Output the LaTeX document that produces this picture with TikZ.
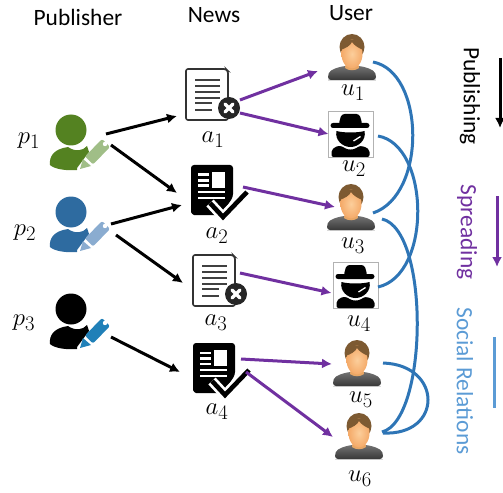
\documentclass[tikz,border=0pt]{standalone}
\usepackage{fontspec}
\setmainfont{Carlito}
\definecolor{spreadpurple}{RGB}{112,48,160}
\definecolor{socialblue}{RGB}{46,117,182}
\definecolor{labelblue}{RGB}{91,155,213}
\definecolor{pgreen}{RGB}{84,130,33}
\definecolor{pgreenl}{RGB}{160,190,135}
\definecolor{pblue}{RGB}{46,107,160}
\definecolor{pbluel}{RGB}{138,172,208}
\definecolor{ppen}{RGB}{32,128,184}
\definecolor{hair}{RGB}{125,90,50}
\definecolor{skinin}{RGB}{252,206,155}
\definecolor{skinout}{RGB}{244,170,105}
\usetikzlibrary{arrows.meta}
\tikzset{
  x=1bp,y=-1bp,
  slot/.style={inner sep=0pt,outer sep=0pt,minimum size=#1},
  head/.style={font=\fontsize{23.5}{28}\selectfont,text=black,inner sep=0pt},
  sidelabel/.style={font=\fontsize{23.5}{28}\selectfont,rotate=-90,inner sep=0pt},
  mathlabel/.style={font=\fontsize{32}{38}\selectfont,inner sep=0pt},
  publish/.style={line width=3bp,black,-{Latex[length=10bp,width=10bp]}},
  spread/.style={line width=3bp,spreadpurple,-{Latex[length=10bp,width=10bp]}},
  social/.style={line width=3bp,socialblue},
  pics/publisher/.style n args={2}{code={
    \fill[#1] (-7,-20) circle (15.5);
    \fill[#1] (-10,-3) .. controls (-3,2) and (5,1) .. (9,-4) -- (11,2) -- (-1,18) -- (-1,20)
       .. controls (-12,21) and (-24,19) .. (-28,15) .. controls (-29,6) and (-24,-1) .. (-10,-3) -- cycle;
    \fill[#2] (2,19) -- (5,9) -- (13,16) -- cycle;
    \fill[#2,rounded corners=2bp] (7,6.5) -- (24,-11) -- (32,-3) -- (15,14.5) -- cycle;
    \fill[white] (27,-6) circle (2.2);
  }},
  pics/docx/.style={code={
    \draw[line width=1.6bp,black!80,rounded corners=2bp] (0,0) -- (40,0) -- (42,2) -- (42,51) -- (0,51) -- cycle;
    \foreach \yy/\xe in {11/34,17/34,23/34,29/34,34/26,41/26}{\draw[line width=1.7bp,black!75] (9,\yy) -- (\xe,\yy);}
    \fill[black!85] (43,39) circle (11);
    \draw[white,line width=3.2bp,line cap=round] (39,35) -- (47,43) (47,35) -- (39,43);
  }},
  pics/doccheck/.style={code={
    \fill[black,rounded corners=3bp] (0,0) -- (42,0) -- (42,32) -- (30,50) -- (6,50) .. controls (2,50) and (0,48) .. (0,44) -- cycle;
    \fill[white] (21,7) rectangle (34,23);
    \foreach \yy in {8.5,14,19.5}{\fill[white] (7,\yy) rectangle (18,\yy+2.6);}
    \fill[white] (7,26) rectangle (34,28.4);
    \fill[white] (7,31.5) rectangle (34,33.5);
    \draw[white,line width=10bp,line join=miter] (19,38) -- (32,52) -- (56,27);
    \draw[black,line width=4.6bp,line join=miter] (19,38) -- (32,52) -- (56,27);
  }},
  pics/usericon/.style={code={
    \fill[black!15] (-24,26.5) rectangle (24,28);
    \shade[top color=black!55,bottom color=black!78,rounded corners=3bp]
      (-24,27) .. controls (-24,18) and (-20,16) .. (-8,13) -- (8,13) .. controls (20,16) and (24,18) .. (24,27) -- cycle;
    \fill[orange!45!brown!70] (-6,8) -- (6,8) -- (7,15) .. controls (3,18) and (-3,18) .. (-7,15) -- cycle;
    \fill[hair] (0,-6) ellipse (12.5 and 13);
    \shade[inner color=skinin,outer color=skinout] (0,1) ellipse (10.5 and 14.5);
    \fill[hair] (-11.5,-3) .. controls (-11,-17) and (11,-17) .. (11.5,-3) .. controls (6,-5) and (2,-8) .. (0,-11) .. controls (-2,-7) and (-6,-5) .. (-11.5,-3) -- cycle;
  }},
  pics/spyicon/.style={code={
    \fill[white] (-22.5,-23) rectangle (22.5,23);
    \draw[black!30,line width=.6bp] (-22.5,-23) rectangle (22.5,23);
    \fill[black,rounded corners=3bp] (-12,-9) -- (-9,-20) -- (9,-20) -- (12,-9) -- cycle;
    \fill[black,rounded corners=2.5bp] (-20,-11) rectangle (19,-6);
    \fill[black] (-14,-3) .. controls (-7,-1) and (7,-1) .. (14,-3) .. controls (16,6) and (8,13) .. (0,13) .. controls (-8,13) and (-16,6) .. (-14,-3) -- cycle;
    \draw[white,line width=1.3bp] (3,7) -- (10,2.5);
    \fill[black,rounded corners=2bp] (-19,23) -- (-19,16) .. controls (-13,11) and (-10,12) .. (-7,13) .. controls (-3,16) and (3,16) .. (7,13) .. controls (10,12) and (14,12) .. (19,16) -- (19,23) -- cycle;
  }}
}
\begin{document}
\begin{tikzpicture}
\useasboundingbox (0,0) rectangle (503,493);
% headers
\node[head] (hpub) at (78,17) {Publisher};
\node[head] (hnews) at (214,15) {News};
\node[head] (huser) at (351,13) {User};
% icon slots
\node[slot=66bp] (p1) at (78,150) {}; \pic at (78,150) {publisher={pgreen}{pgreenl}};
\node[slot=66bp] (p2) at (78,232) {}; \pic at (78,232) {publisher={pblue}{pbluel}};
\node[slot=66bp] (p3) at (78,329) {}; \pic at (78,329) {publisher={black}{ppen}};
\node[slot=50bp] (a1) at (208,95) {}; \pic at (186,69) {docx};
\node[slot=50bp] (a2) at (212,190) {}; \pic at (191,165) {doccheck};
\node[slot=50bp] (a3) at (214,280) {}; \pic at (193,255) {docx};
\node[slot=50bp] (a4) at (214,368) {}; \pic at (193,343) {doccheck};
\node[slot=48bp] (u1) at (352,53) {}; \pic at (352,53) {usericon};
\node[slot=46bp] (u2) at (350.5,134) {}; \pic at (350.5,134) {spyicon};
\node[slot=48bp] (u3) at (351,203) {}; \pic at (351,203) {usericon};
\node[slot=46bp] (u4) at (355.5,285) {}; \pic at (355.5,285) {spyicon};
\node[slot=48bp] (u5) at (357,359) {}; \pic at (357,359) {usericon};
\node[slot=48bp] (u6) at (359,432) {}; \pic at (359,432) {usericon};
% math labels
\node[mathlabel] (lp1) at (29,141) {$p_1$};
\node[mathlabel] (lp2) at (25,233) {$p_2$};
\node[mathlabel] (lp3) at (24,323) {$p_3$};
\node[mathlabel] (la1) at (213,140) {$a_1$};
\node[mathlabel] (la2) at (217,236) {$a_2$};
\node[mathlabel] (la3) at (216,323) {$a_3$};
\node[mathlabel] (la4) at (217,412) {$a_4$};
\node[mathlabel] (lu1) at (353,93) {$u_1$};
\node[mathlabel] (lu2) at (354,169) {$u_2$};
\node[mathlabel] (lu3) at (353,246) {$u_3$};
\node[mathlabel] (lu4) at (359,324) {$u_4$};
\node[mathlabel] (lu5) at (361,400) {$u_5$};
\node[mathlabel] (lu6) at (360,479) {$u_6$};
% publishing
\draw[publish] ([shift={(28,-16)}]p1.center) -- ([shift={(-31,21)}]a1.center);
\draw[publish] ([shift={(33,-5)}]p1.center) -- ([shift={(-35,3)}]a2.center);
\draw[publish] ([shift={(33,-8)}]p2.center) -- ([shift={(-30,15)}]a2.center);
\draw[publish] ([shift={(38,3)}]p2.center) -- ([shift={(-31,3)}]a3.center);
\draw[publish] ([shift={(33,8)}]p3.center) -- ([shift={(-34,4)}]a4.center);
% spreading
\draw[spread] ([shift={(32,5)}]a1.center) -- ([shift={(-34,18)}]u1.center);
\draw[spread] ([shift={(32,18)}]a1.center) -- ([shift={(-22,0)}]u2.center);
\draw[spread] ([shift={(31,-3)}]a2.center) -- ([shift={(-16,4)}]u3.center);
\draw[spread] ([shift={(26,-7)}]a3.center) -- ([shift={(-24,8)}]u4.center);
\draw[spread] ([shift={(27,-9)}]a4.center) -- ([shift={(-25,5)}]u5.center);
\draw[spread] ([shift={(32,4)}]a4.center) -- ([shift={(-26,5)}]u6.center);
% social relations
\draw[social] ([shift={(21,9)}]u1.center) .. controls (425,72) and (427,195) .. ([shift={(22,10)}]u3.center);
\draw[social] ([shift={(27.5,2)}]u2.center) .. controls (430,145) and (432,275) .. ([shift={(22.5,2)}]u4.center);
\draw[social] ([shift={(31,16)}]u3.center) .. controls (430,230) and (428,420) .. ([shift={(23,0)}]u6.center);
\draw[social] ([shift={(26,4)}]u5.center) .. controls (443,365) and (443,436) .. ([shift={(24,1)}]u6.center);
% legend
\node[sidelabel,text=black] (lgpub) at (470,96) {Publishing};
\node[sidelabel,text=spreadpurple] (lgspr) at (467,232) {Spreading};
\node[sidelabel,text=labelblue] (lgsoc) at (465,381) {Social Relations};
\coordinate (k1a) at (500,58); \coordinate (k1b) at (500,128);
\coordinate (k2a) at (497,196); \coordinate (k2b) at (497,267);
\coordinate (k3a) at (494,337); \coordinate (k3b) at (494,408);
\draw[publish] (k1a) -- (k1b);
\draw[spread] (k2a) -- (k2b);
\draw[line width=3bp,labelblue] (k3a) -- (k3b);
\end{tikzpicture}
\end{document}
